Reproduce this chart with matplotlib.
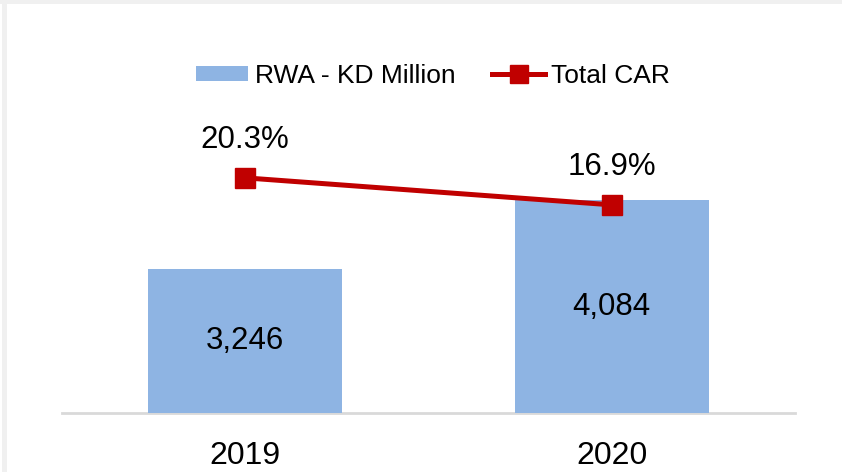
import matplotlib
matplotlib.use("Agg")
import matplotlib.pyplot as plt
from matplotlib.patches import Rectangle
from matplotlib.lines import Line2D

plt.rcParams['font.family'] = ['Liberation Sans', 'DejaVu Sans']

categories = ["2019", "2020"]
rwa = [3246, 4084]
car = [0.203, 0.169]
rwa_labels = ["3,246", "4,084"]
car_labels = ["20.3%", "16.9%"]

W, H = 842, 472
fig = plt.figure(figsize=(W / 100, H / 100), dpi=100)
fig.patch.set_facecolor("white")

# light frame strips
fig.patches.append(Rectangle((0, 1 - 4 / H), 1, 4 / H, transform=fig.transFigure,
                             facecolor="#f0f0f0", edgecolor="none", zorder=0))
fig.patches.append(Rectangle((2 / W, 0), 5 / W, 1, transform=fig.transFigure,
                             facecolor="#f0f0f0", edgecolor="none", zorder=0))

left, right = 62 / W, 795 / W
bottom, top = (H - 413) / H, (H - 100) / H
ax = fig.add_axes([left, bottom, right - left, top - bottom])
ax.set_facecolor("none")

x = list(range(len(categories)))
bar_color = "#8eb4e3"
bars = ax.bar(x, rwa, width=0.53, color=bar_color, zorder=2)
ax.set_xlim(-0.5, 1.5)
ax.set_ylim(1500, 5300)

for xi, v, lab in zip(x, rwa, rwa_labels):
    ax.text(xi, (1500 + v) / 2, lab, ha="center", va="center",
            fontsize=22.5, color="black", zorder=5)

for s in ["top", "right", "left"]:
    ax.spines[s].set_visible(False)
ax.spines["bottom"].set_color("#d9d9d9")
ax.spines["bottom"].set_linewidth(2)
ax.spines["bottom"].set_zorder(1)
ax.set_yticks([])
ax.set_xticks(x)
ax.set_xticklabels(categories, fontsize=23)
ax.tick_params(axis="x", length=0, pad=20)

ax2 = ax.twinx()
ax2.set_ylim(-0.093, 0.301)
ax2.set_yticks([])
for s in ax2.spines.values():
    s.set_visible(False)
line_color = "#c00000"
ax2.plot(x, car, color=line_color, lw=3.6, marker="s", markersize=14.4,
         markerfacecolor=line_color, markeredgecolor=line_color, zorder=4)
for xi, v, lab in zip(x, car, car_labels):
    ax2.annotate(lab, (xi, v), xytext=(0, 27), textcoords="offset points",
                 ha="center", va="center", fontsize=22.5, color="black")

handles = [Rectangle((0, 0), 1, 1, facecolor=bar_color, edgecolor="none"),
           Line2D([], [], color=line_color, lw=3.6, marker="s", markersize=13,
                  markerfacecolor=line_color, markeredgecolor=line_color)]
fig.legend(handles, ["RWA - KD Million", "Total CAR"], loc="center",
           bbox_to_anchor=(0.514, 0.839), ncol=2, frameon=False, fontsize=19,
           handlelength=2.0, handleheight=0.53, handletextpad=0.23,
           columnspacing=1.4, borderpad=0)

fig.savefig("out.png", dpi=100, facecolor="white")
